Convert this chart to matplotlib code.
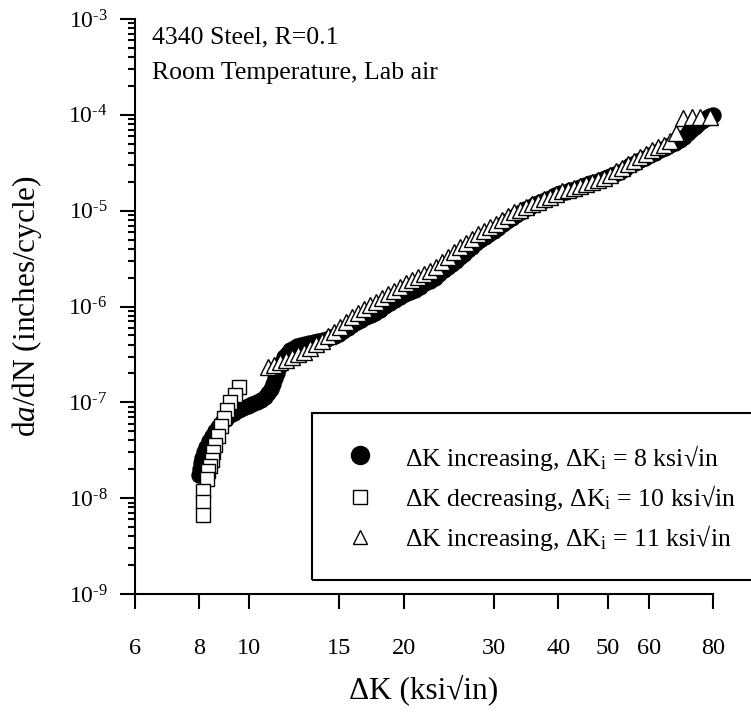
import matplotlib
matplotlib.use("Agg")
import matplotlib.pyplot as plt
from matplotlib.lines import Line2D
from matplotlib.patches import Rectangle
from matplotlib.ticker import FixedLocator, NullLocator, LogLocator, FuncFormatter, NullFormatter
import math

plt.rcParams['font.family'] = ['Liberation Serif', 'DejaVu Serif']
plt.rcParams['mathtext.fontset'] = 'custom'
plt.rcParams['mathtext.rm'] = 'Liberation Serif'
plt.rcParams['mathtext.it'] = 'Liberation Serif:italic'
plt.rcParams['mathtext.bf'] = 'Liberation Serif:bold'

# Delta-K increasing test, starting at 8 ksi*sqrt(in)
dk_inc8 = [7.99, 8.02, 8.06, 8.11, 8.17, 8.26, 8.36, 8.47, 8.59, 8.72,
           8.86, 9.02, 9.18, 9.37, 9.56, 9.75, 9.95, 10.15, 10.36, 10.55,
           10.74, 10.89, 11.04, 11.14, 11.24, 11.34, 11.44, 11.57, 11.70, 11.86,
           12.02, 12.21, 12.40, 12.62, 12.85, 13.11, 13.38, 13.65, 13.93, 14.18,
           14.44, 14.70, 14.97, 15.27, 15.58, 15.90, 16.22, 16.55, 16.89, 17.24,
           17.59, 17.99, 18.39, 18.81, 19.23, 19.67, 20.11, 20.57, 21.04, 21.51,
           22.00, 22.50, 23.01, 23.47, 23.95, 24.39, 24.83, 25.28, 25.74, 26.20,
           26.67, 27.16, 27.65, 28.21, 28.79, 29.37, 29.97, 30.58, 31.20, 31.84,
           32.49, 33.15, 33.82, 34.51, 35.22, 36.02, 36.83, 37.67, 38.52, 39.39,
           40.28, 41.20, 42.13, 43.08, 44.06, 45.06, 46.08, 47.12, 48.19, 49.28,
           50.39, 51.53, 52.70, 53.90, 55.12, 56.37, 57.64, 58.95, 60.28, 61.65,
           63.05, 64.48, 65.94, 67.43, 68.96, 70.21, 71.48, 72.61, 73.76, 74.93,
           76.11, 77.14, 78.18, 79.08, 80.0]
dadn_inc8 = [1.74e-8, 2.01e-8, 2.32e-8, 2.65e-8, 3.02e-8, 3.45e-8, 3.94e-8, 4.44e-8, 5.00e-8, 5.57e-8,
             6.21e-8, 6.76e-8, 7.35e-8, 7.81e-8, 8.30e-8, 8.70e-8, 9.12e-8, 9.55e-8, 1.00e-7, 1.06e-7,
             1.13e-7, 1.24e-7, 1.37e-7, 1.57e-7, 1.79e-7, 2.04e-7, 2.33e-7, 2.63e-7, 2.96e-7, 3.22e-7,
             3.51e-7, 3.68e-7, 3.86e-7, 3.95e-7, 4.05e-7, 4.15e-7, 4.25e-7, 4.35e-7, 4.46e-7, 4.63e-7,
             4.80e-7, 4.97e-7, 5.15e-7, 5.54e-7, 5.95e-7, 6.39e-7, 6.87e-7, 7.30e-7, 7.75e-7, 8.13e-7,
             8.53e-7, 9.28e-7, 1.01e-6, 1.09e-6, 1.17e-6, 1.26e-6, 1.35e-6, 1.41e-6, 1.48e-6, 1.61e-6,
             1.75e-6, 1.86e-6, 1.98e-6, 2.18e-6, 2.40e-6, 2.58e-6, 2.77e-6, 3.01e-6, 3.28e-6, 3.57e-6,
             3.88e-6, 4.22e-6, 4.59e-6, 4.93e-6, 5.30e-6, 5.70e-6, 6.12e-6, 6.66e-6, 7.24e-6, 7.78e-6,
             8.37e-6, 8.99e-6, 9.66e-6, 1.03e-5, 1.09e-5, 1.16e-5, 1.23e-5, 1.29e-5, 1.35e-5, 1.44e-5,
             1.53e-5, 1.58e-5, 1.64e-5, 1.70e-5, 1.76e-5, 1.85e-5, 1.94e-5, 2.01e-5, 2.08e-5, 2.19e-5,
             2.30e-5, 2.41e-5, 2.53e-5, 2.75e-5, 2.99e-5, 3.17e-5, 3.37e-5, 3.58e-5, 3.80e-5, 4.04e-5,
             4.29e-5, 4.56e-5, 4.84e-5, 5.14e-5, 5.46e-5, 5.94e-5, 6.46e-5, 6.94e-5, 7.46e-5, 8.01e-5,
             8.61e-5, 9.03e-5, 9.48e-5, 9.74e-5, 1.00e-4]

# Delta-K decreasing test, starting at 10 ksi*sqrt(in)
dk_dec10 = [9.57, 9.39, 9.18, 9.06, 8.94, 8.82, 8.70, 8.58, 8.51, 8.47,
            8.40, 8.32, 8.29, 8.12, 8.15, 8.15]
dadn_dec10 = [1.45e-7, 1.19e-7, 1.01e-7, 8.4e-8, 6.9e-8, 5.6e-8, 4.5e-8, 3.6e-8, 3.05e-8, 2.5e-8,
              2.15e-8, 1.9e-8, 1.6e-8, 1.2e-8, 9.2e-9, 6.6e-9]

# Delta-K increasing test, starting at 11 ksi*sqrt(in)
dk_inc11 = [10.89, 11.19, 11.49, 11.80, 12.12, 12.45, 12.79, 13.14, 13.50, 13.87,
            14.24, 14.63, 15.03, 15.44, 15.86, 16.29, 16.74, 17.19, 17.66, 18.14,
            18.63, 19.14, 19.66, 20.20, 20.75, 21.31, 21.89, 22.49, 23.10, 23.73,
            24.38, 25.04, 25.72, 26.42, 27.14, 27.88, 28.64, 29.42, 30.22, 31.05,
            31.89, 32.76, 33.66, 34.57, 35.52, 36.48, 37.48, 38.50, 39.55, 40.62,
            41.73, 42.87, 44.04, 45.24, 46.47, 47.73, 49.03, 50.37, 51.74, 53.15,
            54.60, 56.09, 57.61, 59.18, 60.80, 62.45, 64.15, 65.90, 67.70,
            69.9, 72.8, 75.4, 78.9]
dadn_inc11 = [2.33e-7, 2.45e-7, 2.63e-7, 2.76e-7, 2.96e-7, 3.18e-7, 3.34e-7, 3.68e-7, 4.05e-7, 4.35e-7,
              4.91e-7, 5.40e-7, 6.10e-7, 6.87e-7, 7.75e-7, 8.53e-7, 9.40e-7, 1.03e-6, 1.11e-6, 1.22e-6,
              1.35e-6, 1.45e-6, 1.59e-6, 1.75e-6, 1.89e-6, 2.03e-6, 2.18e-6, 2.34e-6, 2.58e-6, 2.91e-6,
              3.28e-6, 3.70e-6, 4.17e-6, 4.59e-6, 5.05e-6, 5.70e-6, 6.12e-6, 6.74e-6, 7.25e-6, 7.98e-6,
              8.78e-6, 9.67e-6, 1.02e-5, 1.09e-5, 1.17e-5, 1.23e-5, 1.32e-5, 1.39e-5, 1.49e-5, 1.60e-5,
              1.64e-5, 1.72e-5, 1.81e-5, 1.90e-5, 1.99e-5, 2.09e-5, 2.19e-5, 2.35e-5, 2.59e-5, 2.78e-5,
              3.06e-5, 3.29e-5, 3.63e-5, 3.90e-5, 4.29e-5, 4.61e-5, 4.84e-5, 5.33e-5, 6.46e-5,
              9.3e-5, 9.6e-5, 9.4e-5, 9.6e-5]

series_labels = [
    "\u0394K increasing, \u0394K$_{\\mathrm{i}}$ = 8 ksi\u221ain",
    "\u0394K decreasing, \u0394K$_{\\mathrm{i}}$ = 10 ksi\u221ain",
    "\u0394K increasing, \u0394K$_{\\mathrm{i}}$ = 11 ksi\u221ain",
]
x_ticks = [6, 8, 10, 15, 20, 30, 40, 50, 60, 80]
y_exponents = [-9, -8, -7, -6, -5, -4, -3]
notes = ["4340 Steel, R=0.1", "Room Temperature, Lab air"]

W, H = 751, 715
fig = plt.figure(figsize=(W / 100, H / 100), dpi=100)
ax = fig.add_axes([135 / W, 1 - 594 / H, (713 - 135) / W, (594 - 19) / H])
ax.set_xscale('log')
ax.set_yscale('log')
ax.set_xlim(6, 80)
ax.set_ylim(1e-9, 1e-3)

for s in ('top', 'right'):
    ax.spines[s].set_visible(False)
for s in ('left', 'bottom'):
    ax.spines[s].set_linewidth(1.5)

ax.xaxis.set_major_locator(FixedLocator(x_ticks))
ax.xaxis.set_major_formatter(FuncFormatter(lambda v, p: "%g" % v))
ax.xaxis.set_minor_locator(NullLocator())
ax.yaxis.set_major_locator(FixedLocator([10.0 ** e for e in y_exponents]))
ax.yaxis.set_major_formatter(FuncFormatter(
    lambda v, p: "10$^{\\text{-%d}}$" % int(round(-math.log10(v)))))
ax.yaxis.set_minor_locator(LogLocator(base=10, subs=range(2, 10), numticks=20))
ax.yaxis.set_minor_formatter(NullFormatter())

ax.tick_params(axis='both', which='major', direction='out', length=10.8, width=1.5)
ax.tick_params(axis='y', which='minor', direction='out', length=5, width=1.5)
ax.tick_params(axis='x', which='major', pad=21, labelsize=17.5)
ax.tick_params(axis='y', which='major', pad=9, labelsize=17)

ax.set_xlabel("\u0394K (ksi\u221ain)", fontsize=22.5)
ax.xaxis.set_label_coords(0.5, -(690 - 594) / 575)
ax.xaxis.label.set_va('center')
ax.set_ylabel("d$\\mathit{a}$/dN (inches/cycle)", fontsize=22.5)
ax.yaxis.set_label_coords(-(135 - 27) / 578, 0.5)
ax.yaxis.label.set_va('center')

ax.plot(dk_inc8, dadn_inc8, ls='none', marker='o', ms=10.8, mfc='black', mec='black',
        mew=1.0, clip_on=False, zorder=3)
ax.plot(dk_dec10, dadn_dec10, ls='none', marker='s', ms=10.5, mfc='white', mec='black',
        mew=1.0, clip_on=False, zorder=4)
ax.plot(dk_inc11, dadn_inc11, ls='none', marker='^', ms=11, mfc='white', mec='black',
        mew=1.0, clip_on=False, zorder=5)

# annotation lines
fig.text(152 / W, 1 - 43 / H, notes[0], fontsize=18.5, va='baseline', ha='left')
fig.text(152 / W, 1 - 79 / H, notes[1], fontsize=18.5, va='baseline', ha='left')

# legend box and entries
fig.add_artist(Rectangle((312 / W, 1 - 580 / H), 0.7, (580 - 413) / H, fill=False,
                         lw=1.5, ec='black', transform=fig.transFigure))
legend_styles = [
    dict(marker='o', ms=13, mfc='black', mec='black'),
    dict(marker='s', ms=9.5, mfc='white', mec='black'),
    dict(marker='^', ms=10.5, mfc='white', mec='black'),
]
marker_y = [455, 497, 537]
text_y = [466, 506, 546]
for lab, sty, my, ty in zip(series_labels, legend_styles, marker_y, text_y):
    fig.add_artist(Line2D([360 / W], [1 - my / H], ls='none', mew=1.0,
                          transform=fig.transFigure, **sty))
    fig.text(405 / W, 1 - ty / H, lab, fontsize=18.5, va='baseline', ha='left')

fig.savefig("out.png", dpi=100)
